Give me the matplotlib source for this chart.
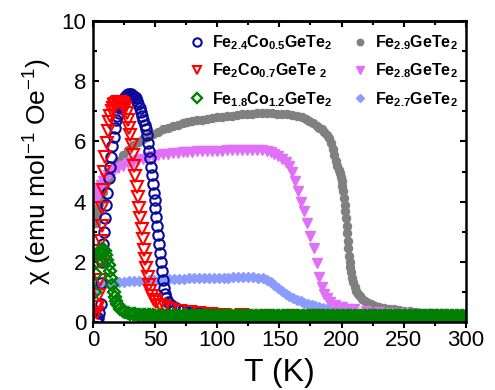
import matplotlib
matplotlib.use("Agg")
import matplotlib.pyplot as plt
from matplotlib.ticker import MultipleLocator

plt.rcParams['font.family'] = ['Liberation Sans', 'DejaVu Sans']
plt.rcParams['mathtext.fontset'] = 'custom'
plt.rcParams['mathtext.rm'] = 'Liberation Sans'
plt.rcParams['mathtext.bf'] = 'Liberation Sans:bold'

# Fe2.4Co0.5GeTe2 (open circles)
t_co05 = [2, 3, 4, 5, 6, 6.7, 7.3, 8, 8.7, 9.5, 10.5, 11.5, 12.5, 13.5, 14.5, 15.5, 16.5,
          17.5, 18.5, 19.5, 20.5, 21.5, 22.5, 23.5, 24.5, 25.5, 26.5, 27.5, 28.5, 29.5,
          30.5, 31.5, 32.5, 33.5, 34.5, 35.5, 36.5, 37.5, 38.5, 39.5, 40.5, 41.5, 42.5,
          43.5, 44.5, 45.3, 46, 46.7, 47.4, 48.1, 48.8, 49.5, 50.2, 50.9, 51.6, 52.3, 53,
          53.7, 54.4, 55.1, 55.9, 56.8, 57.8, 59, 60.5, 62.5, 65, 68, 72, 76, 80, 85, 90,
          95, 100, 110, 120, 130, 140, 150, 160, 170, 180, 190, 200, 210, 220, 230, 240,
          250, 260, 270, 280, 290, 300]
x_co05 = [0.05, 0.08, 0.15, 0.3, 0.6, 1.3, 2.0, 2.6, 3.0, 3.45, 3.9, 4.3, 4.8, 5.15, 5.5,
          5.85, 6.15, 6.45, 6.7, 6.85, 6.95, 7.1, 7.22, 7.32, 7.4, 7.47, 7.52, 7.55, 7.57,
          7.58, 7.57, 7.55, 7.52, 7.48, 7.43, 7.35, 7.25, 7.1, 6.98, 6.85, 6.71, 6.56, 6.4,
          6.2, 5.95, 5.7, 5.45, 5.16, 4.9, 4.6, 4.3, 4.05, 3.8, 3.5, 3.2, 2.9, 2.6, 2.3, 2.0,
          1.7, 1.4, 1.15, 0.95, 0.8, 0.68, 0.58, 0.5, 0.44, 0.39, 0.35, 0.32, 0.3, 0.28,
          0.26, 0.25, 0.23, 0.22, 0.21, 0.2, 0.2, 0.19, 0.19, 0.18, 0.18, 0.18, 0.17, 0.17,
          0.17, 0.16, 0.16, 0.16, 0.16, 0.15, 0.15, 0.15]

# Fe2Co0.7GeTe2 (open down triangles)
t_co07 = [1.8, 2.5, 3, 4, 5, 5.5, 6, 6.5, 7, 7.5, 8, 9, 10, 11, 12, 13, 14, 15, 16, 17, 18,
          19, 20, 21, 22, 23, 24, 25, 26, 27, 28, 29, 30, 31, 32, 33, 34, 35, 36, 37, 38, 39,
          40, 41, 42, 43, 44, 45, 46, 47.5, 49, 51, 54, 58, 63, 70, 78, 85, 95, 105, 120,
          140, 160, 180, 200, 220, 240, 260, 280, 300]
x_co07 = [2.35, 0.5, 0.3, 0.5, 0.9, 1.4, 2.0, 2.7, 3.2, 3.8, 4.4, 5.0, 5.5, 5.95, 6.35,
          6.65, 6.85, 7.0, 7.12, 7.2, 7.25, 7.28, 7.3, 7.3, 7.3, 7.28, 7.25, 7.18, 7.1, 6.95,
          6.7, 6.45, 6.2, 5.9, 5.55, 5.2, 4.85, 4.5, 4.15, 3.8, 3.45, 3.1, 2.75, 2.4, 2.1,
          1.8, 1.5, 1.25, 1.05, 0.88, 0.75, 0.66, 0.58, 0.5, 0.44, 0.38, 0.33, 0.3, 0.27,
          0.25, 0.23, 0.21, 0.2, 0.19, 0.18, 0.18, 0.17, 0.17, 0.16, 0.16]

# Fe1.8Co1.2GeTe2 (open diamonds)
t_co12 = [1.8, 2.2, 2.8, 3.5, 4.5, 5.5, 6.5, 7.5, 8.5, 9.5, 10.5, 11.5, 12.5, 13.5, 14.5,
          15.5, 16.5, 17.5, 18.5, 19.5, 20.5, 22, 24, 26, 28,
          30, 32, 34, 36, 38, 40, 42, 44, 46, 48,
          50, 52, 54, 56, 58, 60, 62, 64, 66, 68,
          70, 72, 74, 76, 78, 80, 82, 84, 86, 88,
          90, 92, 94, 96, 98, 100, 102, 104, 106, 108,
          110, 112, 114, 116, 118, 120, 122, 124, 126, 128,
          130, 132, 134, 136, 138, 140, 142, 144, 146, 148,
          150, 152, 154, 156, 158, 160, 162, 164, 166, 168,
          170, 172, 174, 176, 178, 180, 182, 184, 186, 188,
          190, 192, 194, 196, 198,
          200, 202, 204, 206, 208, 210, 212, 214, 216, 218,
          220, 222, 224, 226, 228, 230, 232, 234, 236, 238,
          240, 242, 244, 246, 248, 250, 252, 254, 256, 258,
          260, 262, 264, 266, 268, 270, 272, 274, 276, 278,
          280, 282, 284, 286, 288, 290, 292, 294, 296, 298,
          300]
x_co12 = [1.0, 1.6, 2.0, 2.2, 2.3, 2.35, 2.4, 2.42, 2.4, 2.35, 2.22, 2.05, 1.9, 1.7, 1.47,
          1.22, 1.0, 0.82, 0.7, 0.6, 0.52, 0.43, 0.37, 0.33, 0.3,
          0.28, 0.27, 0.26, 0.25, 0.25, 0.24, 0.24, 0.23, 0.23, 0.23,
          0.22, 0.22, 0.22, 0.22, 0.22, 0.21, 0.21, 0.21, 0.21, 0.21,
          0.21, 0.21, 0.21, 0.21, 0.21, 0.2, 0.2, 0.2, 0.2, 0.2,
          0.2, 0.2, 0.2, 0.2, 0.2, 0.2, 0.2, 0.2, 0.2, 0.2,
          0.2, 0.2, 0.2, 0.2, 0.2, 0.2, 0.2, 0.2, 0.2, 0.2,
          0.2, 0.2, 0.2, 0.2, 0.2, 0.2, 0.2, 0.2, 0.2, 0.2,
          0.2, 0.2, 0.2, 0.2, 0.2, 0.2, 0.2, 0.2, 0.2, 0.2,
          0.2, 0.2, 0.2, 0.2, 0.2, 0.2, 0.2, 0.2, 0.2, 0.2,
          0.2, 0.2, 0.2, 0.2, 0.2,
          0.19, 0.19, 0.19, 0.19, 0.19, 0.19, 0.19, 0.19, 0.19, 0.19,
          0.19, 0.19, 0.19, 0.19, 0.19, 0.19, 0.19, 0.19, 0.19, 0.19,
          0.19, 0.19, 0.19, 0.19, 0.19, 0.19, 0.19, 0.19, 0.19, 0.19,
          0.19, 0.19, 0.19, 0.19, 0.19, 0.19, 0.19, 0.19, 0.19, 0.19,
          0.19, 0.19, 0.19, 0.19, 0.19, 0.19, 0.19, 0.19, 0.19, 0.19,
          0.19]

# Fe2.9GeTe2 (filled circles)
t_fe29 = [2, 3, 4, 5, 6, 8, 10, 12, 14, 17, 20, 24, 28, 32, 36, 40, 44, 48, 52, 56, 60, 64,
          68, 72, 76, 80, 84, 88, 92, 96, 100, 104, 108, 112, 116, 120, 124, 128, 132, 136,
          140, 144, 148, 152, 156, 160, 164, 168, 171, 174, 177, 180, 182, 184, 186, 188,
          190, 191.5, 193, 194.3, 195.5, 196.6, 197.6, 198.5, 199.3, 200, 200.7, 201.3,
          201.9, 202.5, 203, 203.5, 204, 204.5, 205, 205.5, 206, 206.6, 207.2, 207.9, 208.7,
          209.6, 210.6, 211.8, 213.2, 214.8, 216.6, 218.6, 221, 224, 227, 230, 234, 238, 242,
          246, 250, 255, 260, 265, 270, 275, 280, 285, 290, 295, 300]
x_fe29 = [3.3, 3.55, 3.75, 3.92, 4.07, 4.33, 4.55, 4.75, 4.92, 5.15, 5.35, 5.56, 5.73, 5.87,
          5.99, 6.09, 6.18, 6.26, 6.33, 6.4, 6.45, 6.5, 6.55, 6.6, 6.64, 6.67, 6.7, 6.73,
          6.76, 6.78, 6.8, 6.82, 6.84, 6.86, 6.88, 6.9, 6.91, 6.92, 6.93, 6.93, 6.93, 6.93,
          6.92, 6.91, 6.9, 6.88, 6.85, 6.8, 6.75, 6.69, 6.62, 6.52, 6.45, 6.4, 6.33, 6.23,
          6.1, 5.95, 5.75, 5.55, 5.35, 5.2, 5.05, 4.95, 4.82, 4.7, 4.52, 4.35, 4.12, 3.9,
          3.68, 3.45, 3.2, 2.95, 2.7, 2.45, 2.2, 2.0, 1.82, 1.65, 1.48, 1.32, 1.18, 1.05,
          0.95, 0.86, 0.78, 0.71, 0.65, 0.59, 0.55, 0.51, 0.48, 0.45, 0.42, 0.4, 0.38, 0.36,
          0.34, 0.32, 0.31, 0.29, 0.28, 0.27, 0.26, 0.25, 0.24]

# Fe2.8GeTe2 (filled down triangles)
t_fe28 = [2, 3, 4, 5, 6, 8, 10, 12, 14, 17, 20, 24, 28, 32, 36, 40, 44, 48, 52, 56, 60, 64,
          68, 72, 76, 80, 84, 88, 92, 96, 100, 104, 108, 112, 116, 120, 124, 128, 132, 136,
          140, 143, 146, 149, 152, 155, 157.5, 160, 162.5, 165, 167.5, 170, 172.5, 175,
          177.5, 180, 182, 184, 186, 188, 191, 195, 200, 205, 210, 220, 230, 240, 250, 260,
          270, 280, 290, 300]
x_fe28 = [4.05, 4.2, 4.35, 4.45, 4.55, 4.7, 4.8, 4.9, 4.97, 5.05, 5.12, 5.2, 5.27, 5.33,
          5.38, 5.43, 5.47, 5.51, 5.54, 5.57, 5.59, 5.61, 5.63, 5.64, 5.65, 5.66, 5.67, 5.68,
          5.69, 5.69, 5.7, 5.7, 5.71, 5.71, 5.71, 5.72, 5.72, 5.72, 5.72, 5.71, 5.7, 5.66,
          5.6, 5.52, 5.43, 5.33, 5.2, 5.0, 4.7, 4.35, 4.0, 3.7, 3.3, 2.85, 2.45, 1.95, 1.5,
          1.17, 0.95, 0.8, 0.68, 0.58, 0.5, 0.45, 0.42, 0.37, 0.34, 0.32, 0.3, 0.28, 0.27,
          0.26, 0.25, 0.24]

# Fe2.7GeTe2 (filled diamonds)
t_fe27 = [2, 4, 6, 9, 13, 17, 21, 25, 29, 33, 37, 41, 45, 49, 53, 57, 61, 65, 69, 73, 77,
          81, 85, 89, 93, 97, 101, 105, 109, 113, 117, 121, 125, 129, 133, 137, 140, 143,
          146, 149, 152, 155, 158, 161, 164, 167, 170, 173, 176, 179, 182, 185, 188, 191,
          194, 197, 200, 204, 208, 212, 216, 220, 225, 230, 235, 240, 245, 250, 255, 260,
          265, 270, 275, 280, 285, 290, 295, 300]
x_fe27 = [1.0, 1.15, 1.22, 1.26, 1.28, 1.3, 1.32, 1.33, 1.35, 1.36, 1.37, 1.38, 1.39, 1.4,
          1.41, 1.42, 1.42, 1.43, 1.44, 1.44, 1.45, 1.45, 1.46, 1.46, 1.47, 1.47, 1.48, 1.48,
          1.48, 1.49, 1.49, 1.49, 1.49, 1.49, 1.48, 1.45, 1.4, 1.32, 1.22, 1.12, 1.02, 0.94,
          0.86, 0.8, 0.74, 0.69, 0.65, 0.61, 0.57, 0.53, 0.5, 0.46, 0.43, 0.4, 0.38, 0.36,
          0.34, 0.32, 0.3, 0.29, 0.28, 0.27, 0.26, 0.25, 0.24, 0.24, 0.23, 0.23, 0.22, 0.22,
          0.22, 0.21, 0.21, 0.21, 0.2, 0.2, 0.2, 0.2]

fig = plt.figure(figsize=(4.95, 3.9), dpi=100)
ax = fig.add_axes([0.188, 0.174, 0.753, 0.772])

h_fe29, = ax.plot(t_fe29, x_fe29, ls='none', marker='o', ms=5.8, mfc='#808080', mec='#808080',
                  label=r'Fe$_{\mathbf{2.9}}$GeTe$_{\mathbf{2}}$', zorder=2)
h_fe27, = ax.plot(t_fe27, x_fe27, ls='none', marker='D', ms=5, mfc='#8c9bff', mec='#8c9bff',
                  label=r'Fe$_{\mathbf{2.7}}$GeTe$_{\mathbf{2}}$', zorder=2)
h_fe28, = ax.plot(t_fe28, x_fe28, ls='none', marker='v', ms=7, mfc='#e070f8', mec='#e070f8',
                  label=r'Fe$_{\mathbf{2.8}}$GeTe$_{\mathbf{2}}$', zorder=2)
h_co05, = ax.plot(t_co05, x_co05, ls='none', marker='o', ms=7.5, mfc='none', mec='#0a0a9e',
                  mew=1.5, label=r'Fe$_{\mathbf{2.4}}$Co$_{\mathbf{0.5}}$GeTe$_{\mathbf{2}}$',
                  zorder=3)
h_co07, = ax.plot(t_co07, x_co07, ls='none', marker='v', ms=8, mfc='none', mec='#ff0000',
                  mew=1.5, label=r'Fe$_{\mathbf{2}}$Co$_{\mathbf{0.7}}$GeTe $_{\mathbf{2}}$',
                  zorder=3)
h_co12, = ax.plot(t_co12, x_co12, ls='none', marker='D', ms=5.8, mfc='none', mec='#008000',
                  mew=1.7, label=r'Fe$_{\mathbf{1.8}}$Co$_{\mathbf{1.2}}$GeTe$_{\mathbf{2}}$',
                  zorder=4)

handles = [h_co05, h_co07, h_co12, h_fe29, h_fe28, h_fe27]
ax.legend(handles=handles, labels=[h.get_label() for h in handles], ncol=2, frameon=False,
          loc='upper left', bbox_to_anchor=(0.245, 0.98), handlelength=0.8,
          handletextpad=0.55, columnspacing=1.3, labelspacing=0.6, borderaxespad=0,
          prop={'weight': 'bold', 'size': 11.5}, markerscale=0.8)

ax.set_xlim(0, 300)
ax.set_ylim(0, 10)
ax.xaxis.set_major_locator(MultipleLocator(50))
ax.xaxis.set_minor_locator(MultipleLocator(25))
ax.yaxis.set_major_locator(MultipleLocator(2))
ax.yaxis.set_minor_locator(MultipleLocator(1))

for sp in ax.spines.values():
    sp.set_linewidth(1.8)
    sp.set_zorder(5)

ax.tick_params(axis='x', which='both', direction='out', top=False, labelsize=16, pad=2)
ax.tick_params(axis='y', which='both', direction='in', right=True, labelsize=16, pad=5)
ax.tick_params(which='major', length=4, width=1.5)
ax.tick_params(which='minor', length=3, width=1.5)

top = ax.secondary_xaxis('top')
top.xaxis.set_major_locator(MultipleLocator(50))
top.xaxis.set_minor_locator(MultipleLocator(25))
top.tick_params(which='both', direction='in', labeltop=False, width=1.5)
top.tick_params(which='major', length=4)
top.tick_params(which='minor', length=3)
top.spines['top'].set_linewidth(1.8)

ax.set_xlabel('T (K)', fontsize=23, labelpad=5)
ax.set_ylabel('χ (emu mol$^{-1}$ Oe$^{-1}$)', fontsize=19, labelpad=6)

fig.savefig('out.png', dpi=100)
